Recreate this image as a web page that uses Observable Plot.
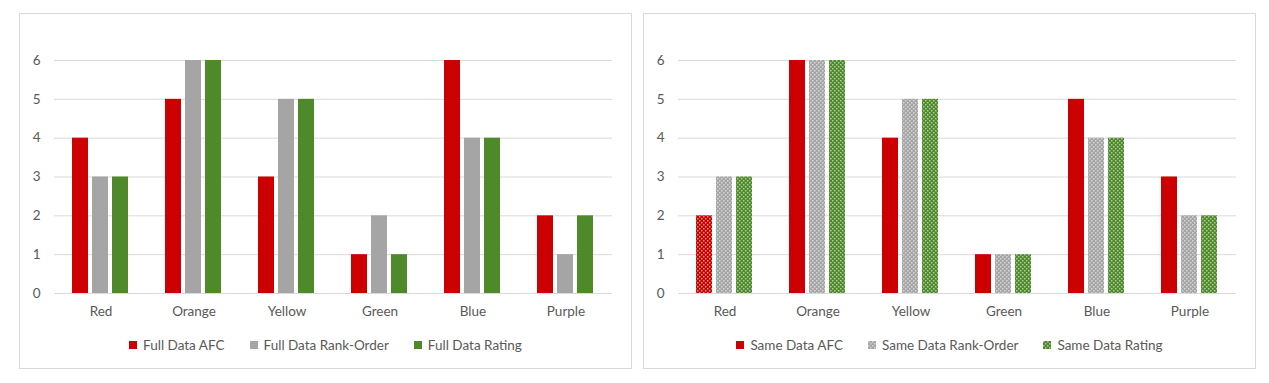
<!DOCTYPE html>
<html><head><meta charset="utf-8">
<script src="https://cdn.jsdelivr.net/npm/d3@7"></script>
<script src="https://cdn.jsdelivr.net/npm/@observablehq/plot@0.6"></script>
<style>
body{margin:0;background:#fff;font-family:Lato, sans-serif;}
.panel{position:absolute;top:13px;width:611px;height:354px;border:1px solid #D9D9D9;background:#fff;}
.panel svg.plot{position:absolute;left:0;top:0;}
.legend{position:absolute;left:0;right:0;top:323px;display:flex;justify-content:center;gap:25px;font-size:13.5px;color:#595959;line-height:16px;}
.item{display:flex;align-items:center;gap:6px;}
</style></head><body>
<svg width="0" height="0" style="position:absolute">
  <defs>
    <pattern id="pat-AFC" width="4" height="4" patternUnits="userSpaceOnUse">
      <rect width="4" height="4" fill="#CC0000"/>
      <rect x="0" y="0" width="1.5" height="1.5" fill="#fff" fill-opacity="0.55"/>
      <rect x="2" y="2" width="1.5" height="1.5" fill="#fff" fill-opacity="0.55"/>
    </pattern>
    <pattern id="pat-Rank" width="4" height="4" patternUnits="userSpaceOnUse">
      <rect width="4" height="4" fill="#A5A5A5"/>
      <rect x="0" y="0" width="1.5" height="1.5" fill="#fff" fill-opacity="0.55"/>
      <rect x="2" y="2" width="1.5" height="1.5" fill="#fff" fill-opacity="0.55"/>
    </pattern>
    <pattern id="pat-Rating" width="4" height="4" patternUnits="userSpaceOnUse">
      <rect width="4" height="4" fill="#4E8A2A"/>
      <rect x="0" y="0" width="1.5" height="1.5" fill="#fff" fill-opacity="0.55"/>
      <rect x="2" y="2" width="1.5" height="1.5" fill="#fff" fill-opacity="0.55"/>
    </pattern>
  </defs>
</svg>
<div id="left" class="panel" style="left:19px"></div>
<div id="right" class="panel" style="left:643px"></div>
<script>
const categories = ["Red", "Orange", "Yellow", "Green", "Blue", "Purple"];
const seriesKeys = ["AFC", "Rank", "Rating"];
const fullLabels = ["Full Data AFC", "Full Data Rank-Order", "Full Data Rating"];
const sameLabels = ["Same Data AFC", "Same Data Rank-Order", "Same Data Rating"];
const fullAFC = [4, 5, 3, 1, 6, 2];
const fullRank = [3, 6, 5, 2, 4, 1];
const fullRating = [3, 6, 5, 1, 4, 2];
const sameAFC = [2, 6, 4, 1, 5, 3];
const sameRank = [3, 6, 5, 1, 4, 2];
const sameRating = [3, 6, 5, 1, 4, 2];
const yTicks = [0, 1, 2, 3, 4, 5, 6];

const colors = {AFC: "#CC0000", Rank: "#A5A5A5", Rating: "#4E8A2A"};

function toRows(seriesArrays) {
  const rows = [];
  seriesKeys.forEach((s, i) => {
    categories.forEach((c, j) => rows.push({category: c, series: s, value: seriesArrays[i][j]}));
  });
  return rows;
}

function chart(rows, fillFn) {
  return Plot.plot({
    width: 611, height: 320,
    marginLeft: 33, marginRight: 19, marginTop: 46, marginBottom: 41,
    style: {fontFamily: "Lato, sans-serif", fontSize: "13.5px", color: "#595959", background: "transparent"},
    fx: {domain: categories, padding: 0, label: null},
    x: {domain: seriesKeys, axis: null, paddingInner: 0.19, paddingOuter: 0.81},
    y: {domain: [0, 6], label: null},
    color: {type: "identity"},
    marks: [
      Plot.gridY(yTicks, {stroke: "#D9D9D9", strokeOpacity: 1}),
      Plot.axisY({ticks: yTicks, tickFormat: d3.format("d"), tickSize: 0, tickPadding: 14, label: null, fill: "#595959"}),
      Plot.axisFx({anchor: "bottom", tickSize: 0, tickPadding: 13, label: null, fill: "#595959"}),
      Plot.barY(rows, {fx: "category", x: "series", y: "value", fill: fillFn})
    ]
  });
}

function legend(labels, fills) {
  const div = document.createElement("div");
  div.className = "legend";
  labels.forEach((l, i) => {
    const item = document.createElement("div");
    item.className = "item";
    item.innerHTML = `<svg width="8" height="8"><rect width="8" height="8" fill="${fills[i]}"/></svg><span>${l}</span>`;
    div.appendChild(item);
  });
  return div;
}

const left = document.getElementById("left");
const lp = chart(toRows([fullAFC, fullRank, fullRating]), d => colors[d.series]);
left.appendChild(lp);
left.appendChild(legend(fullLabels, seriesKeys.map(s => colors[s])));

const right = document.getElementById("right");
const rp = chart(toRows([sameAFC, sameRank, sameRating]),
  d => (d.series === "AFC" && d.category !== "Red") ? colors.AFC : `url(#pat-${d.series})`);
right.appendChild(rp);
right.appendChild(legend(sameLabels, [colors.AFC, "url(#pat-Rank)", "url(#pat-Rating)"]));
</script>
</body></html>
